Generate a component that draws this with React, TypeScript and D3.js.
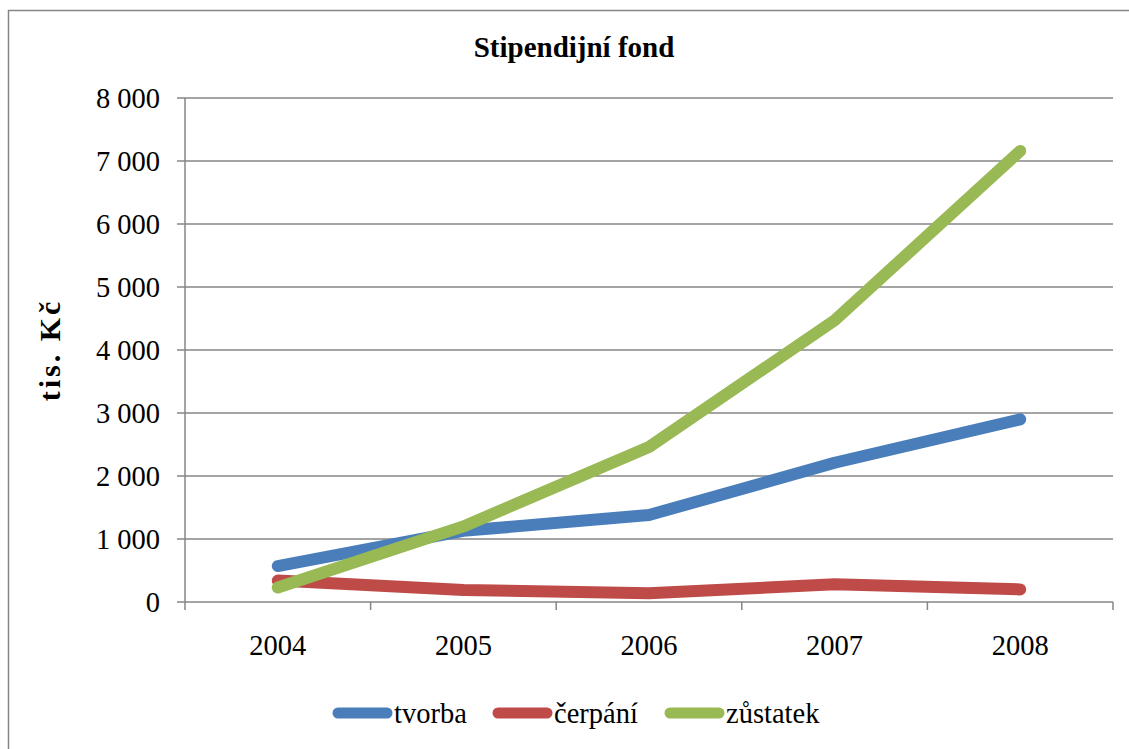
import React, { useEffect, useRef } from 'react';
import * as d3 from 'd3';

const years = ['2004', '2005', '2006', '2007', '2008'];
const tvorba = [570, 1130, 1380, 2210, 2900];
const cerpani = [340, 190, 140, 280, 200];
const zustatek = [230, 1200, 2460, 4470, 7160];
const yTicks = [0, 1000, 2000, 3000, 4000, 5000, 6000, 7000, 8000];

const series = [
  { name: 'tvorba', values: tvorba, color: '#4A7EBB' },
  { name: 'čerpání', values: cerpani, color: '#BE4B48' },
  { name: 'zůstatek', values: zustatek, color: '#98B954' }
];

const App = () => {
  const svgRef = useRef<SVGSVGElement>(null);

  useEffect(() => {
    const width = 1129;
    const height = 749;
    const margin = { top: 98, right: 16, bottom: 147, left: 185 };
    const font = '"Liberation Serif", "Times New Roman", serif';
    const gridColor = '#868686';

    const svg = d3.select(svgRef.current);
    svg.selectAll('*').remove();
    svg.attr('width', width).attr('height', height);

    svg.append('rect')
      .attr('width', width).attr('height', height).attr('fill', '#fff');

    // chart border
    svg.append('rect')
      .attr('x', 8.5).attr('y', 10.5)
      .attr('width', width + 10).attr('height', height + 10)
      .attr('fill', 'none')
      .attr('stroke', gridColor)
      .attr('stroke-width', 1.5);

    const x = d3.scaleBand()
      .domain(years)
      .range([margin.left, width - margin.right]);

    const y = d3.scaleLinear()
      .domain([0, 8000])
      .range([height - margin.bottom, margin.top]);

    // gridlines
    svg.append('g')
      .selectAll('line')
      .data(yTicks)
      .enter()
      .append('line')
      .attr('x1', margin.left - 8)
      .attr('x2', width - margin.right)
      .attr('y1', d => y(d))
      .attr('y2', d => y(d))
      .attr('stroke', gridColor)
      .attr('stroke-width', 1.5);

    // y axis line
    svg.append('line')
      .attr('x1', margin.left).attr('x2', margin.left)
      .attr('y1', y(8000)).attr('y2', y(0))
      .attr('stroke', gridColor).attr('stroke-width', 1.5);

    // x ticks
    const xTickPos = years.map(d => x(d)!).concat([x(years[years.length - 1])! + x.bandwidth()]);
    svg.append('g')
      .selectAll('line')
      .data(xTickPos)
      .enter()
      .append('line')
      .attr('x1', d => d).attr('x2', d => d)
      .attr('y1', y(0)).attr('y2', y(0) + 8)
      .attr('stroke', gridColor).attr('stroke-width', 1.5);

    // y tick labels
    svg.append('g')
      .selectAll('text')
      .data(yTicks)
      .enter()
      .append('text')
      .attr('x', margin.left - 25)
      .attr('y', d => y(d))
      .attr('dy', '0.35em')
      .attr('text-anchor', 'end')
      .style('font-family', font)
      .style('font-size', '28.5px')
      .text(d => d3.format(',')(d).replace(/,/g, ' '));

    // x tick labels
    svg.append('g')
      .selectAll('text')
      .data(years)
      .enter()
      .append('text')
      .attr('x', d => x(d)! + x.bandwidth() / 2)
      .attr('y', 655)
      .attr('text-anchor', 'middle')
      .style('font-family', font)
      .style('font-size', '28.5px')
      .text(d => d);

    // title
    svg.append('text')
      .attr('x', 574).attr('y', 57)
      .attr('text-anchor', 'middle')
      .style('font-family', font)
      .style('font-size', '29px')
      .style('font-weight', 'bold')
      .text('Stipendijní fond');

    // y axis title
    svg.append('text')
      .attr('transform', `translate(60, ${(y(0) + y(8000)) / 2}) rotate(-90)`)
      .attr('text-anchor', 'middle')
      .style('font-family', font)
      .style('font-size', '30px')
      .style('font-weight', 'bold')
      .style('letter-spacing', '3px')
      .text('tis. Kč');

    const line = d3.line<number>()
      .x((d, i) => x(years[i])! + x.bandwidth() / 2)
      .y(d => y(d));

    series.forEach(s => {
      svg.append('path')
        .datum(s.values)
        .attr('d', line)
        .attr('fill', 'none')
        .attr('stroke', s.color)
        .attr('stroke-width', 12)
        .attr('stroke-linecap', 'round')
        .attr('stroke-linejoin', 'round');
    });

    // legend
    const legendX = [338, 498, 670];
    const legend = svg.append('g');
    series.forEach((s, i) => {
      legend.append('line')
        .attr('x1', legendX[i]).attr('x2', legendX[i] + 49)
        .attr('y1', 713).attr('y2', 713)
        .attr('stroke', s.color)
        .attr('stroke-width', 11)
        .attr('stroke-linecap', 'round');
      legend.append('text')
        .attr('x', legendX[i] + 56)
        .attr('y', 723)
        .style('font-family', font)
        .style('font-size', '28.5px')
        .text(s.name);
    });
  }, []);

  return (
    <svg ref={svgRef} style={{ position: 'absolute', left: 0, top: 0, display: 'block' }} />
  );
};

export default App;
